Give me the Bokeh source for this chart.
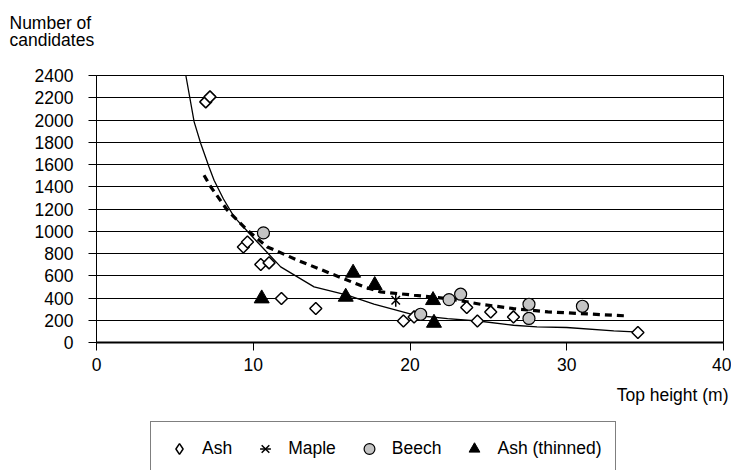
import numpy as np
from bokeh.plotting import figure
from bokeh.layouts import column
from bokeh.models import Range1d, FixedTicker, Title, Legend, LegendItem
from bokeh.embed import file_html
from bokeh.resources import INLINE

# ---- data ----
ash_x = [6.97, 7.24, 9.37, 9.63, 10.48, 11.01, 11.8, 13.99, 19.58, 20.26, 23.62, 24.3, 25.15, 26.6, 34.54]
ash_y = [2163, 2208, 859, 904, 701, 716, 395, 305, 194, 230, 315, 194, 275, 230, 90]

maple_x = [19.09]
maple_y = [380]

beech_x = [10.65, 20.68, 22.49, 23.23, 27.59, 27.59, 31.0]
beech_y = [985, 254, 386, 434, 344, 216, 326]

thin_x = [10.54, 15.9, 16.37, 17.75, 21.47, 21.53]
thin_y = [395, 410, 626, 515, 380, 176]

# solid trend line
fit1_x = [5.70, 6.23, 6.65, 7.18, 7.5, 8.1, 8.78, 10.05, 11.75, 13.88, 16.0, 17.7, 19.3, 20.3, 22.4, 24.5, 26.6, 28.1, 30.0, 33.0, 34.3]
fit1_y = [2400, 1983, 1789, 1578, 1459, 1290, 1129, 935, 680, 500, 425, 345, 285, 245, 215, 191, 155, 140, 135, 104, 95]

# dashed trend line
fit2_x = [6.86, 7.29, 8.35, 9.63, 10.9, 12.82, 14.94, 17.07, 18.13, 19.2, 20.26, 22.4, 24.5, 26.6, 28.8, 30.9, 33.87]
fit2_y = [1504, 1399, 1189, 1009, 859, 740, 620, 500, 455, 440, 425, 395, 344, 305, 275, 260, 239]

x_ticks = [0, 10, 20, 30, 40]
y_ticks = list(range(0, 2401, 200))

y_title_lines = ["Number of", "candidates"]
x_title = "Top height (m)"
legend_labels = ["Ash", "Maple", "Beech", "Ash (thinned)"]

FONT = "Liberation Sans"
FS = "17.5px"

ASH = dict(marker="square", angle=np.pi / 4, size=8.5, fill_color="white", line_color="black", line_width=1.5)
ASH_KEY = dict(marker="diamond", size=12, fill_color="white", line_color="black", line_width=1.5)
MAPLE_X = dict(marker="x", size=12, line_color="black", line_width=1.5)
MAPLE_BAR = dict(marker="dash", angle=np.pi / 2, size=13, line_color="black", line_width=1.5)
BEECH = dict(marker="circle", size=12, fill_color="#c4c4c4", line_color="black", line_width=1.2)
THIN = dict(marker="triangle", size=15, fill_color="black", line_color="black")

# ---------------- main chart ----------------
p = figure(width=731, height=420, output_backend="svg", toolbar_location=None,
           x_range=Range1d(0, 40), y_range=Range1d(0, 2400), title=None,
           min_border_left=96, min_border_right=8, min_border_top=75, min_border_bottom=78)
p.background_fill_color = "white"
p.border_fill_color = "white"
p.outline_line_color = "black"
p.outline_line_width = 1
p.outline_line_alpha = 1.0

p.xgrid.visible = False
p.ygrid.ticker = FixedTicker(ticks=y_ticks)
p.ygrid.grid_line_color = "black"
p.ygrid.grid_line_width = 1

p.xaxis.ticker = FixedTicker(ticks=x_ticks)
p.yaxis.ticker = FixedTicker(ticks=y_ticks)
for ax in (p.xaxis, p.yaxis):
    ax.axis_line_color = "black"
    ax.major_tick_line_color = "black"
    ax.major_tick_out = 8
    ax.major_tick_in = 0
    ax.minor_tick_out = 0
    ax.minor_tick_in = 0
    ax.major_label_text_font = FONT
    ax.major_label_text_font_size = FS
    ax.major_label_text_color = "black"
p.xaxis.axis_line_width = 2
p.yaxis.major_label_standoff = 15
p.xaxis.major_label_standoff = 7

p.line(fit1_x, fit1_y, line_color="black", line_width=1.3)
p.line(fit2_x, fit2_y, line_color="black", line_width=3.2, line_dash="7 5")

p.scatter(ash_x, ash_y, **ASH)
p.scatter(maple_x, maple_y, **MAPLE_X)
p.scatter(maple_x, maple_y, **MAPLE_BAR)
p.scatter(beech_x, beech_y, **BEECH)
p.scatter(thin_x, thin_y, **THIN)

# spacer panel between frame and the y title, then the two title lines
p.add_layout(Title(text=" ", text_font_size="1px", standoff=22), "above")
p.add_layout(Title(text=y_title_lines[1], align="left", offset=-87, standoff=2,
                   text_font=FONT, text_font_size=FS, text_font_style="normal",
                   text_color="black"), "above")
p.add_layout(Title(text=y_title_lines[0], align="left", offset=-87, standoff=-12,
                   text_font=FONT, text_font_size=FS, text_font_style="normal",
                   text_color="black"), "above")
p.add_layout(Title(text=x_title, align="right", offset=-5, standoff=18,
                   text_font=FONT, text_font_size=FS, text_font_style="normal",
                   text_color="black"), "below")

# ---------------- legend strip ----------------
q = figure(width=731, height=50, output_backend="svg", toolbar_location=None,
           x_range=Range1d(0, 40), y_range=Range1d(0, 2400), title=None,
           x_axis_location=None, y_axis_location=None,
           min_border_left=0, min_border_right=0, min_border_top=0, min_border_bottom=0)
q.grid.visible = False
q.outline_line_color = None
q.background_fill_color = "white"
q.border_fill_color = "white"

l_ash = q.scatter(ash_x, ash_y, visible=False, **ASH_KEY)
l_m1 = q.scatter(maple_x, maple_y, visible=False, **MAPLE_X)
l_m2 = q.scatter(maple_x, maple_y, visible=False, **MAPLE_BAR)
l_beech = q.scatter(beech_x, beech_y, visible=False, **BEECH)
l_thin = q.scatter(thin_x, thin_y, visible=False, **THIN)

legend = Legend(items=[
    LegendItem(label=legend_labels[0], renderers=[l_ash]),
    LegendItem(label=legend_labels[1], renderers=[l_m1, l_m2]),
    LegendItem(label=legend_labels[2], renderers=[l_beech]),
    LegendItem(label=legend_labels[3], renderers=[l_thin]),
], orientation="horizontal", location=(54, -6), margin=0, padding=13,
    spacing=18, glyph_width=30, glyph_height=27, label_height=27, label_standoff=8,
    label_text_font=FONT, label_text_font_size=FS, label_text_color="black",
    border_line_color="black", border_line_width=1, background_fill_color="white",
    background_fill_alpha=1.0, inactive_fill_alpha=0.0)
q.add_layout(legend, "center")

open("out.html", "w").write(file_html(column(p, q, spacing=0), INLINE))
